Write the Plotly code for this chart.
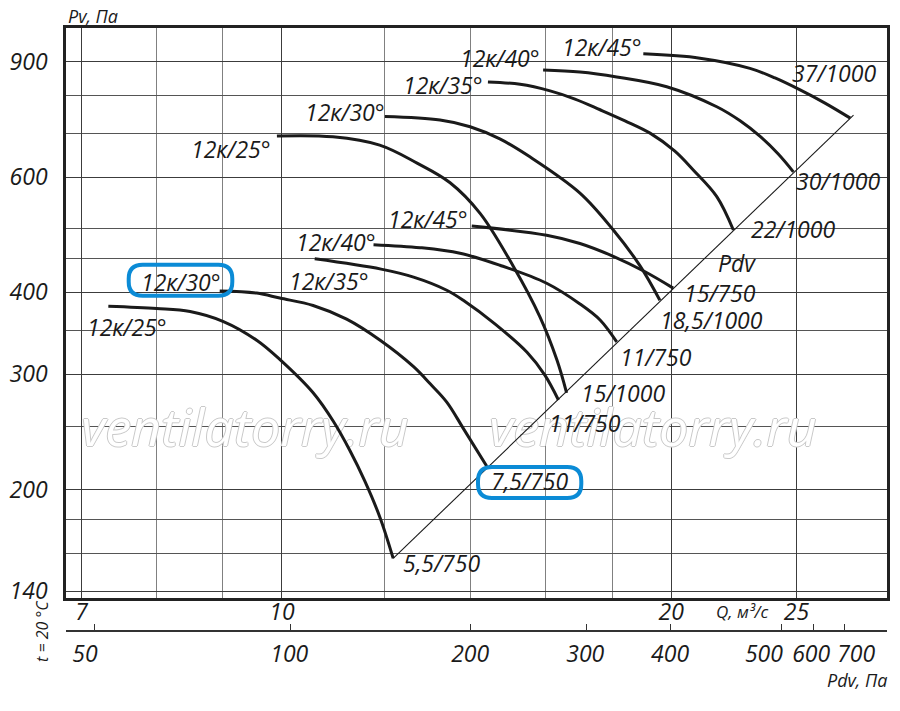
import numpy as np
import plotly.graph_objects as go

# fan curves, Q in m3/s and Pv in Pa
# 750 rpm group
q_25_750 = [7.34, 8.00, 8.49, 9.01, 9.56, 9.96, 10.57, 10.96, 11.29, 11.59, 11.91, 12.19]
pv_25_750 = [381, 378, 374, 361, 338, 316, 281, 254, 229, 206, 181, 157]
q_30_750 = [8.95, 9.56, 9.96, 10.57, 11.22, 11.91, 12.64, 13.02, 13.41, 13.81, 14.40]
pv_30_750 = [402, 399, 392, 382, 364, 338, 308, 290, 272, 248, 217]
q_35_750 = [10.60, 11.93, 12.64, 13.41, 13.81, 14.61, 15.47, 15.97, 16.36]
pv_35_750 = [450, 434, 422, 403, 389, 358, 324, 299, 274]
q_40_750 = [11.77, 12.79, 13.73, 14.74, 16.02, 17.00, 17.62, 18.15]
pv_40_750 = [473, 468, 459, 440, 413, 384, 363, 336]
q_45_750 = [14.02, 16.02, 17.00, 18.04, 19.09, 20.07]
pv_45_750 = [505, 489, 475, 454, 430, 406]

# 1000 rpm group
q_25_1000 = [9.91, 10.95, 11.90, 12.72, 13.49, 14.23, 15.10, 15.83, 16.32, 16.60]
pv_25_1000 = [693, 691, 671, 630, 588, 528, 438, 367, 315, 281]
q_30_1000 = [12.01, 13.25, 13.98, 14.74, 15.55, 17.00, 18.04, 18.92, 19.60]
pv_30_1000 = [742, 733, 716, 686, 644, 567, 498, 439, 389]
q_35_1000 = [14.43, 15.28, 16.12, 16.85, 17.62, 18.42, 19.26, 20.13, 20.80, 21.69, 22.34]
pv_35_1000 = [838, 831, 812, 789, 760, 731, 700, 657, 615, 560, 498]
q_40_1000 = [15.92, 17.00, 18.15, 19.84, 21.69, 22.61, 23.43, 24.19, 24.86]
pv_40_1000 = [874, 868, 853, 824, 768, 731, 692, 651, 611]
q_45_1000 = [19.03, 21.05, 23.01, 24.06, 25.16, 26.30, 27.51]
pv_45_1000 = [925, 911, 879, 850, 815, 778, 738]

# Pdv line through the curve ends
q_pdv = [12.19, 27.67]
pv_pdv = [157, 746]

# axis ticks
q_ticks = [7, 10, 20, 25]
q_grid = [8, 9, 12, 14, 16, 18]
pv_ticks = [140, 200, 300, 400, 600, 900]
pv_grid = [160, 180, 250, 350, 450, 500, 700, 800]
# lower Pdv scale: labels, the Q each label sits under, the Q of each tick mark
pdv_labels = [50, 100, 200, 300, 400, 500, 600, 700]
pdv_label_q = [7.04, 10.13, 13.98, 17.16, 19.96, 23.59, 25.66, 27.80]
pdv_mark_q = [7.16, 10.16, 13.98, 17.21, 19.98, 24.35, 25.76, 27.21]

# (name, q, pv, motor label, name shift, motor label shift)
curves = [
    ("12к/25°", q_25_750, pv_25_750, "5,5/750", (19, -21), (48, -5)),
    ("12к/30°", q_30_750, pv_30_750, "7,5/750", (-39, 9), (43, -15)),
    ("12к/35°", q_35_750, pv_35_750, "11/750", (14, -22), (27, -23)),
    ("12к/40°", q_40_750, pv_40_750, "11/750", (-38, 3), (39, -15)),
    ("12к/45°", q_45_750, pv_45_750, "15/750", (-44, 7), (47, -5)),
    ("12к/25°", q_25_1000, pv_25_1000, "15/1000", (-46, -13), (56, 0)),
    ("12к/30°", q_30_1000, pv_30_1000, "18,5/1000", (-40, 5), (52, -20)),
    ("12к/35°", q_35_1000, pv_35_1000, "22/1000", (-45, -3), (60, 1)),
    ("12к/40°", q_40_1000, pv_40_1000, "30/1000", (-43, 12), (45, -9)),
    ("12к/45°", q_45_1000, pv_45_1000, "37/1000", (-41, 7), (-16, 45)),
]

W, H = 900, 711
ML, MR, MT, MB = 66, 13, 28, 30
PW, PH = W - ML - MR, H - MT - MB
PLOT_BOTTOM = 598
XR = [np.log10(6.807), np.log10(29.37)]
YR = [np.log10(136.6), np.log10(1013)]
INK = "#1a1a1a"
BLUE = "#0b8bd6"
FONT = "Open Sans"


def px(x):
    return (x - ML) / PW


def py(y):
    return (H - MB - y) / PH


def q_at(x):
    # page pixel column -> Q value
    return 10 ** (XR[0] + (x - ML) / PW * (XR[1] - XR[0]))


def pv_at(y):
    # page pixel row -> Pv value
    return 10 ** (YR[1] - (y - MT) / (PLOT_BOTTOM - MT) * (YR[1] - YR[0]))


def it(size, color=INK):
    return dict(family=FONT, size=size, color=color, style="italic")


def pill(x0, y0, x1, y1, r):
    # rounded box in paper coords, corners given in page pixels
    pts = [
        ("M", x0 + r, y0), ("L", x1 - r, y0), ("Q", x1, y0, x1, y0 + r),
        ("L", x1, y1 - r), ("Q", x1, y1, x1 - r, y1), ("L", x0 + r, y1),
        ("Q", x0, y1, x0, y1 - r), ("L", x0, y0 + r), ("Q", x0, y0, x0 + r, y0),
    ]
    out = []
    for p in pts:
        vals = p[1:]
        coords = []
        for i in range(0, len(vals), 2):
            coords.append(f"{px(vals[i]):.5f},{py(vals[i + 1]):.5f}")
        out.append(p[0] + " ".join(coords))
    return " ".join(out) + " Z"


fig = go.Figure()

# watermark, drawn first so the curves pass over it
fig.add_trace(go.Scatter(
    x=[q_at(245), q_at(653)], y=[pv_at(433)] * 2, mode="text",
    text=["ventilatorry.ru"] * 2, textposition="middle center",
    textfont=dict(family=FONT, size=52, color="white", style="italic",
                  shadow="1px 0 #c9c9c9, -1px 0 #c9c9c9, 0 1px #c9c9c9, 0 -1px #c9c9c9"),
    hoverinfo="skip"))

fig.add_trace(go.Scatter(x=q_pdv, y=pv_pdv, mode="lines",
                         line=dict(color=INK, width=1.1), hoverinfo="skip"))

for name, q, pv, motor, s1, s2 in curves:
    fig.add_trace(go.Scatter(x=q, y=pv, mode="lines", line_shape="spline",
                             line=dict(color=INK, width=3), hoverinfo="skip"))

# keeps the Pdv scale drawn
fig.add_trace(go.Scatter(x=[pdv_mark_q[0]], y=[pv_ticks[0]], xaxis="x2", mode="markers",
                         marker=dict(opacity=0), hoverinfo="skip"))

ann = []
for name, q, pv, motor, s1, s2 in curves:
    ann.append(dict(x=np.log10(q[0]), y=np.log10(pv[0]), xref="x", yref="y", text=name,
                    xshift=s1[0], yshift=s1[1], font=it(23)))
    ann.append(dict(x=np.log10(q[-1]), y=np.log10(pv[-1]), xref="x", yref="y", text=motor,
                    xshift=s2[0], yshift=s2[1], font=it(23)))

ann += [
    dict(x=px(737), y=py(263), text="Pdv", font=it(23)),
    dict(x=px(93), y=py(16), text="Pv, Па", font=it(18)),
    dict(x=px(742), y=py(611), text="Q, м³/с", font=it(17)),
    dict(x=px(857), y=py(680), text="Pdv, Па", font=it(18)),
    dict(x=px(42), y=py(631), text="t = 20 °C", textangle=-90, font=it(16)),
]
for a in ann:
    a.setdefault("xref", "paper")
    a.setdefault("yref", "paper")
    a["showarrow"] = False
    a["xanchor"] = "center"
    a["yanchor"] = "middle"

shapes = [
    dict(type="path", xref="paper", yref="paper", path=pill(128.7, 264.7, 232.3, 295.7, 14),
         line=dict(color=BLUE, width=4)),
    dict(type="path", xref="paper", yref="paper", path=pill(478, 467, 581.3, 498, 14),
         line=dict(color=BLUE, width=4)),
]

fig.update_layout(
    width=W, height=H,
    margin=dict(l=ML, r=MR, t=MT, b=MB, autoexpand=False),
    paper_bgcolor="white", plot_bgcolor="white",
    showlegend=False,
    annotations=ann, shapes=shapes,
    xaxis=dict(
        type="log", range=XR, domain=[0, 1], anchor="y",
        tickmode="array", tickvals=q_ticks, ticktext=[str(v) for v in q_ticks],
        ticks="", ticklabelstandoff=-8, tickfont=it(23), tickangle=0, automargin=False,
        showgrid=True, gridcolor="#3c3c3c", gridwidth=1,
        minor=dict(tickmode="array", tickvals=q_grid, showgrid=True, gridcolor="#808080", gridwidth=1),
        showline=True, mirror=True, linecolor="#222", linewidth=2.6, zeroline=False,
    ),
    yaxis=dict(
        type="log", range=YR, domain=[py(PLOT_BOTTOM), 1],
        tickmode="array", tickvals=pv_ticks, ticktext=[str(v) for v in pv_ticks],
        ticks="", ticklabelstandoff=11, tickfont=it(23), automargin=False,
        showgrid=True, gridcolor="#3c3c3c", gridwidth=1,
        minor=dict(tickmode="array", tickvals=pv_grid, showgrid=True, gridcolor="#555555", gridwidth=1),
        showline=True, mirror=True, linecolor="#222", linewidth=2.6, zeroline=False,
    ),
    xaxis2=dict(
        type="log", range=XR, domain=[0, 1],
        anchor="free", position=py(630.7), overlaying="x", side="bottom",
        tickmode="array", tickvals=pdv_label_q, ticktext=[str(v) for v in pdv_labels],
        ticks="", ticklabelstandoff=3, tickfont=it(23), tickangle=0, automargin=False,
        minor=dict(tickmode="array", tickvals=pdv_mark_q, ticks="inside", ticklen=6,
                   tickwidth=1.3, tickcolor="#333", showgrid=False),
        showgrid=False, showline=True, linecolor="#333", linewidth=2, zeroline=False,
    ),
)

fig.write_html("out.html", config={"displayModeBar": False},
               post_script="document.body.style.margin='0px';")
